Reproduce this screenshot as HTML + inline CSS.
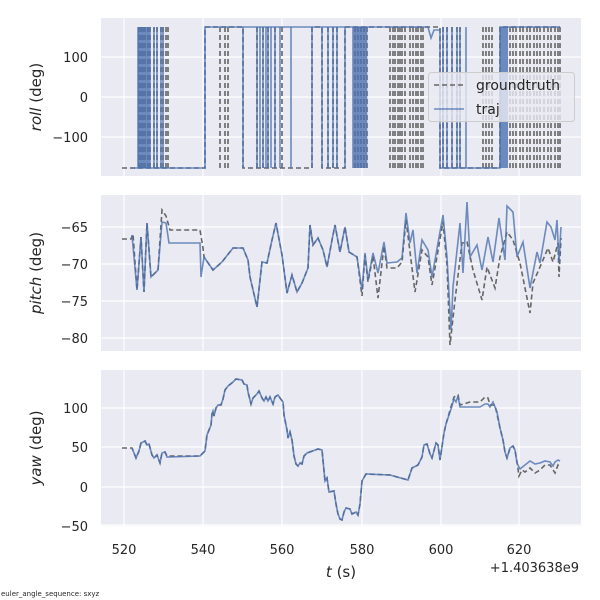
<!DOCTYPE html>
<html><head><meta charset="utf-8"><style>
body{margin:0;background:#fff;}
svg{display:block;font-family:"DejaVu Sans","Liberation Sans",sans-serif;}
</style></head><body>
<svg width="600" height="600" viewBox="0 0 600 600" xmlns="http://www.w3.org/2000/svg">
<!-- panel backgrounds -->
<rect x="101" y="18" width="480" height="158" fill="#EAEAF2"/>
<rect x="101" y="195" width="480" height="156" fill="#EAEAF2"/>
<rect x="101" y="370" width="480" height="156" fill="#EAEAF2"/>
<g stroke="#fff" stroke-width="1.2">
<!-- vertical grid -->
<path d="M124,18V176M203,18V176M282,18V176M362,18V176M441,18V176M519,18V176"/>
<path d="M124,195V351M203,195V351M282,195V351M362,195V351M441,195V351M519,195V351"/>
<path d="M124,370V526M203,370V526M282,370V526M362,370V526M441,370V526M519,370V526"/>
<path d="M101,57H581M101,97H581M101,137H581"/>
<path d="M101,227H581M101,264H581M101,301H581M101,338H581"/>
<path d="M101,408H581M101,447H581M101,487H581M101,525H581"/>
</g>
<g font-size="13" fill="#262626" text-anchor="end">
<text x="88" y="62">100</text><text x="88" y="102">0</text><text x="88" y="142">−100</text>
<text x="88" y="232">−65</text><text x="88" y="269">−70</text><text x="88" y="306">−75</text><text x="88" y="343">−80</text>
<text x="88" y="413">100</text><text x="88" y="452">50</text><text x="88" y="492">0</text><text x="88" y="531">−50</text>
</g>
<g font-size="13" fill="#262626" text-anchor="middle">
<text x="124" y="554">520</text><text x="203" y="554">540</text><text x="282" y="554">560</text><text x="362" y="554">580</text><text x="441" y="554">600</text><text x="519" y="554">620</text>
<text x="341" y="577" font-size="15"><tspan font-style="italic">t</tspan> (s)</text>
</g>
<text x="579" y="572" font-size="13" fill="#262626" text-anchor="end">+1.403638e9</text>
<text x="1" y="596" font-size="7" fill="#262626">euler_angle_sequence: sxyz</text>
<g font-size="15" fill="#262626" text-anchor="middle">
<text transform="translate(41,97) rotate(-90)"><tspan font-style="italic">roll</tspan> (deg)</text>
<text transform="translate(41,273) rotate(-90)"><tspan font-style="italic">pitch</tspan> (deg)</text>
<text transform="translate(41,448) rotate(-90)"><tspan font-style="italic">yaw</tspan> (deg)</text>
</g>

<!-- ROLL -->
<g fill="none" stroke="#666" stroke-width="1.6" stroke-dasharray="5,3">
<path d="M122,168H205V27H243V168H312V27H322V168H345V27H440V168H500V27H560"/>
<path d="M139,27V168M141,27V168M143,27V168M145,27V168M148,27V168M150,27V168M154,27V168M157,27V168M161,27V168M163,27V168M166,27V168M168,27V168M220,27V168M225,27V168M228,27V168M257,27V168M263,27V168M268,27V168M275,27V168M282,27V168M328,27V168M333,27V168M337,27V168M355,27V168M358,27V168M361,27V168M364,27V168M367,27V168
M390,27V168M393,27V168M395,27V168M398,27V168M400,27V168M402,27V168M405,27V168M410,27V168M413,27V168M416,27V168M418,27V168M421,27V168M423,27V168M443,27V168M447,27V168M452,27V168M457,27V168M460,27V168M483,27V168M486,27V168M489,27V168M492,27V168
M510,27V168M513,27V168M516,27V168M520,27V168M523,27V168M527,27V168M530,27V168M534,27V168M537,27V168M540,27V168M544,27V168M548,27V168M551,27V168M555,27V168M558,27V168M560,27V168"/>
</g>
<g fill="none" stroke="#4C72B0" stroke-opacity="0.8" stroke-width="1.6">
<path d="M132,168H138V27V168H205V27H428L431,38L434,30H440V168H500V27H560"/>
<path d="M139,27V168M140.5,27V168M142,27V168M143,27V168M144.5,27V168M146,27V168M147,27V168M148.5,27V168M150,27V168M154,27V168M157,27V168M161,27V168M163,27V168
M243,27V168M257,27V168M260,27V168M263,27V168M266,27V168M268,27V168M271,27V168M275,27V168M280,27V168M291,27V168M312,27V168M322,27V168M328,27V168M333,27V168M337,27V168M345,27V168
M353,27V168M354.5,27V168M356,27V168M357.5,27V168M359,27V168M360.5,27V168M362,27V168M363.5,27V168M365,27V168M366.5,27V168M443,27V168M447,27V168M452,27V168M457,27V168M460,27V168M466,27V168"/>
<rect x="500" y="27" width="8" height="141" fill="#4C72B0" fill-opacity="0.8" stroke="none"/>
</g>
<!-- legend -->
<rect x="428.5" y="72.5" width="146" height="49" rx="3" fill="#EAEAF2" fill-opacity="0.8" stroke="#ccc"/>
<path d="M434,85H464" stroke="#666" stroke-width="1.6" stroke-dasharray="5,3"/>
<path d="M434,109H464" stroke="#4C72B0" stroke-opacity="0.8" stroke-width="1.6"/>
<text x="476" y="90" font-size="14" fill="#262626">groundtruth</text>
<text x="476" y="114" font-size="14" fill="#262626">traj</text>

<!-- PITCH -->
<path fill="none" stroke="#666" stroke-width="1.6" stroke-dasharray="5,3" d="M122,239L131,239L133,234L137,290L141,237L144,292L147,223L151,277L158,270L162,210L166,216L170,230L200,230L203,248L204,257L213,270L222,262L233,248L243,248L248,260L250,277L257,307L262,262L267,263L272,240L276,223L282,255L287,293L292,275L297,292L302,283L308,268L310,225L313,245L318,238L323,250L327,267L332,240L335,225L340,252L345,227L349,252L357,257L362,296L365,255L368,282L373,256L378,298L384,246L387,268L397,268L402,262L406,220L410,252L415,292L422,250L428,257L432,285L435,268L443,222L447,265L450,345L455,300L462,243L467,242L473,270L482,300L487,267L495,288L500,257L507,232L513,240L520,263L530,313L533,283L540,267L548,248L553,262L558,243L559,277L561,238"/>
<path fill="none" stroke="#4C72B0" stroke-opacity="0.8" stroke-width="1.6" d="M132,235L137,290L141,237L144,292L147,223L151,277L158,270L162,222L166,223L169,243L200,243L201,277L204,257L213,270L222,262L233,248L243,248L248,260L250,277L257,307L262,262L267,263L272,240L276,223L282,255L287,293L292,275L297,292L302,283L308,268L310,225L313,245L318,238L323,250L327,267L332,240L335,225L340,252L345,227L349,252L357,257L362,290L365,253L368,280L373,253L378,273L384,242L387,263L397,262L402,258L406,213L410,243L413,230L417,273L422,240L428,250L432,277L435,260L443,215L447,257L451,330L453,287L460,223L463,273L467,202L470,257L477,245L482,270L488,237L493,262L499,218L505,260L507,206L513,212L517,257L523,242L530,288L537,252L540,263L547,222L551,227L555,240L557,220L559,262L561,227"/>

<!-- YAW -->
<path fill="none" stroke="#666" stroke-width="1.6" stroke-dasharray="5,3" d="M122,448L132,448L136,458L139,451L141,443L145,441L147,445L149,444L152,455L154,458L157,455L160,463L162,453L165,452L167,456L200,456L205,451L207,435L211,425L212,414L213,411L214,416L216,408L218,405L221,405L223,399L225,390L228,386L233,382L236,379L242,380L244,384L247,385L248,392L251,404L253,398L257,394L259,391L262,398L264,401L266,397L268,401L270,397L273,404L275,397L278,395L280,398L283,402L284,415L287,430L288,438L290,432L292,440L294,456L296,464L298,466L300,463L302,464L304,456L307,453L318,449L322,450L325,481L327,478L329,492L334,491L336,504L338,514L340,519L342,520L344,512L346,508L350,509L352,514L356,512L358,515L360,504L362,481L366,474L390,475L408,480L412,468L418,465L422,457L424,445L427,444L430,454L432,458L436,443L438,445L440,460L444,433L446,424L451,407L454,397L458,395L460,405L470,402L480,402L485,397L488,398L490,405L495,405L500,428L503,440L505,452L507,458L510,448L513,446L515,450L517,462L519,476L522,470L525,472L530,468L535,473L540,470L545,465L550,465L555,473L558,465L560,467"/>
<path fill="none" stroke="#4C72B0" stroke-opacity="0.8" stroke-width="1.6" d="M132,448L136,458L139,451L141,443L145,441L147,445L149,444L152,455L154,458L157,455L160,463L162,453L165,452L167,457L200,456L205,451L207,435L211,425L212,414L213,411L214,416L216,408L218,405L221,405L223,399L225,390L228,386L233,382L236,379L242,380L244,384L247,385L248,392L251,404L253,398L257,394L259,391L262,398L264,401L266,397L268,401L270,397L273,404L275,397L278,395L280,398L283,402L284,415L287,430L288,438L290,432L292,440L294,456L296,464L298,466L300,463L302,464L304,456L307,453L318,449L322,450L325,481L327,478L329,492L334,491L336,504L338,514L340,519L342,520L344,512L346,508L350,509L352,514L356,512L358,515L360,504L362,481L366,474L390,475L408,480L412,468L418,465L422,457L424,445L427,444L430,454L432,458L436,443L438,445L440,460L444,433L446,424L451,409L454,399L456,402L458,396L460,407L470,407L480,407L485,404L488,404L490,407L493,402L495,407L497,412L500,428L503,440L505,452L507,458L510,448L513,446L515,450L517,463L520,469L525,465L530,461L535,464L540,463L545,461L550,462L553,466L555,462L558,460L560,461"/>
</svg>
</body></html>
